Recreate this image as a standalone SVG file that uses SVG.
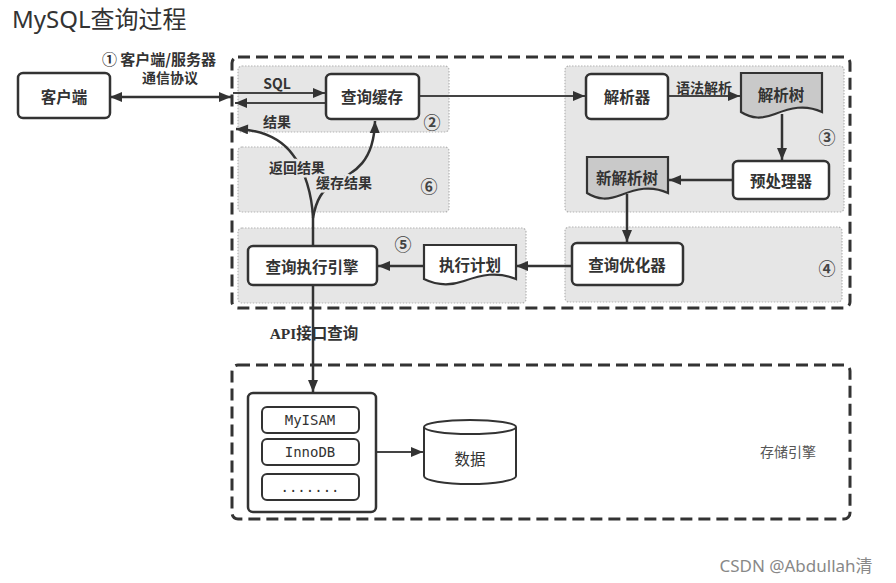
<svg xmlns="http://www.w3.org/2000/svg" width="896" height="583" viewBox="0 0 896 583">
<style>
.panel{fill:#e6e6e6;stroke:#b4b4b4;stroke-width:1.2;stroke-dasharray:1.5 1.5}
.outer{fill:none;stroke:#333;stroke-width:3;stroke-dasharray:12 6}
.box{fill:#fff;stroke:#333;stroke-width:2.5}
.doc{fill:#fff;stroke:#333;stroke-width:2.2}
.docg{fill:#c9c9c9;stroke:#333;stroke-width:2.2}
.lbl{font-family:"Noto Sans CJK SC","Noto Sans",sans-serif;font-size:15.5px;font-weight:bold;fill:#333;text-anchor:middle;dominant-baseline:central}
.sm{font-family:"Noto Sans CJK SC","Noto Sans",sans-serif;font-size:14px;font-weight:bold;fill:#333;text-anchor:middle;dominant-baseline:central}
.num{font-family:"Noto Sans CJK SC","DejaVu Sans",sans-serif;font-size:17px;font-weight:bold;fill:#444;text-anchor:middle;dominant-baseline:central}
.mono{font-family:"DejaVu Sans Mono","Liberation Mono",monospace;font-size:14px;fill:#333;text-anchor:middle;dominant-baseline:central}
.halo{paint-order:stroke;stroke:#e6e6e6;stroke-width:5px;stroke-linejoin:round}
.ln{fill:none;stroke:#444;stroke-width:1.8}
.lnb{fill:none;stroke:#333;stroke-width:2.5}
</style>
<defs>
<marker id="ah" viewBox="0 0 12 10" refX="12" refY="5" markerWidth="13" markerHeight="10" markerUnits="userSpaceOnUse" orient="auto-start-reverse">
<path d="M0,0 L12,5 L0,10 z" fill="#333"/>
</marker>
</defs>

<text x="12" y="28" style="font-family:'Noto Sans','Noto Sans CJK SC',sans-serif;font-size:24px;fill:#333">MySQL查询过程</text>

<!-- containers -->
<rect class="outer" x="232" y="57" width="618" height="251" rx="6"/>
<rect class="outer" x="232" y="365" width="618" height="154" rx="6"/>
<rect class="panel" x="238" y="66" width="211" height="66" rx="4"/>
<rect class="panel" x="238" y="147" width="211" height="65" rx="4"/>
<rect class="panel" x="238" y="228" width="288" height="75" rx="4"/>
<rect class="panel" x="565" y="66" width="279" height="146" rx="4"/>
<rect class="panel" x="565" y="227" width="277" height="75" rx="4"/>

<!-- connectors -->
<g id="connectors">
<line class="lnb" x1="110" y1="97" x2="231" y2="97" marker-start="url(#ah)" marker-end="url(#ah)"/>
<line class="ln" x1="233" y1="93" x2="325" y2="93" marker-end="url(#ah)"/>
<line class="ln" x1="326" y1="103" x2="235" y2="103" marker-end="url(#ah)"/>
<line class="ln" x1="419" y1="96" x2="585" y2="96" marker-end="url(#ah)"/>
<line class="ln" x1="668" y1="96" x2="740" y2="96" marker-end="url(#ah)"/>
<line class="lnb" x1="782" y1="114" x2="782" y2="160" marker-end="url(#ah)"/>
<line class="lnb" x1="733" y1="180" x2="669" y2="180" marker-end="url(#ah)"/>
<line class="lnb" x1="627" y1="194" x2="627" y2="242" marker-end="url(#ah)"/>
<line class="lnb" x1="572" y1="266" x2="516" y2="266" marker-end="url(#ah)"/>
<line class="lnb" x1="424" y1="266" x2="378" y2="266" marker-end="url(#ah)"/>
<path class="lnb" d="M313,245 V218 C312,195 305,170 293,155 C282,140 265,130 236,129" marker-end="url(#ah)"/>
<path class="lnb" d="M313,218 C316,200 322,190 335,182 C355,172 374,162 375,121" marker-end="url(#ah)"/>
<line class="lnb" x1="313" y1="285" x2="313" y2="392" marker-end="url(#ah)"/>
<line class="ln" x1="376" y1="452" x2="423" y2="452" marker-end="url(#ah)"/>
</g>

<!-- labels on connectors -->
<text class="sm" x="159" y="58" style="font-size:15px">① 客户端/服务器</text>
<text class="sm" x="170" y="77">通信协议</text>
<text class="sm" x="277" y="83">SQL</text>
<text class="sm" x="277" y="121">结果</text>
<text class="sm" x="704" y="87">语法解析</text>
<text class="sm halo" x="297" y="167">返回结果</text>
<text class="sm halo" x="344" y="182">缓存结果</text>
<text x="314" y="333" style="font-family:'Liberation Serif','Noto Sans CJK SC',serif;font-size:15.5px;font-weight:bold;fill:#333;text-anchor:middle;dominant-baseline:central">API接口查询</text>

<!-- circled numbers -->
<text class="num" x="432" y="121">②</text>
<text class="num" x="827" y="136">③</text>
<text class="num" x="827" y="267">④</text>
<text class="num" x="403" y="243">⑤</text>
<text class="num" x="429" y="185">⑥</text>

<g id="client">
<rect class="box" x="18" y="73" width="92" height="45" rx="5"/>
<text class="lbl" x="64" y="96">客户端</text>
</g>
<g id="query-cache">
<rect class="box" x="326" y="74" width="93" height="45" rx="5"/>
<text class="lbl" x="372" y="96">查询缓存</text>
</g>
<g id="parser">
<rect class="box" x="586" y="74" width="82" height="45" rx="5"/>
<text class="lbl" x="627" y="96">解析器</text>
</g>
<g id="parse-tree">
<path class="docg" d="M741,73 H822 V112 C805,104 790,108 775,114 C762,119 752,119 741,112 Z"/>
<text class="lbl" x="781" y="94">解析树</text>
</g>
<g id="preprocessor">
<rect class="box" x="733" y="161" width="96" height="38" rx="5"/>
<text class="lbl" x="781" y="180">预处理器</text>
</g>
<g id="new-parse-tree">
<path class="docg" d="M587,157 H668 V193 C651,185 636,189 621,195 C608,200 598,200 587,193 Z"/>
<text class="lbl" x="627" y="177">新解析树</text>
</g>
<g id="optimizer">
<rect class="box" x="572" y="243" width="111" height="42" rx="5"/>
<text class="lbl" x="627" y="264">查询优化器</text>
</g>
<g id="exec-plan">
<path class="doc" d="M424,245 H516 V279 C497,271 481,275 464,281 C450,286 438,286 424,279 Z"/>
<text class="lbl" x="470" y="264">执行计划</text>
</g>
<g id="exec-engine">
<rect class="box" x="248" y="246" width="129" height="39" rx="5"/>
<text class="lbl" x="312" y="266">查询执行引擎</text>
</g>
<g id="engines">
<rect class="box" x="248" y="393" width="128" height="119" rx="5"/>
<rect class="box" x="262" y="407" width="97" height="26" rx="5" style="stroke-width:2"/>
<text class="mono" x="310" y="420">MyISAM</text>
<rect class="box" x="262" y="439" width="97" height="26" rx="5" style="stroke-width:2"/>
<text class="mono" x="310" y="452">InnoDB</text>
<rect class="box" x="262" y="474" width="97" height="26" rx="5" style="stroke-width:2"/>
<text class="mono" x="310" y="487">.......</text>
</g>
<g id="data">
<path class="box" style="stroke-width:2" d="M424,427 V476 A46,8 0 0 0 516,476 V427"/>
<ellipse class="box" style="stroke-width:2" cx="470" cy="427" rx="46" ry="7"/>
<text class="lbl" x="470" y="458" style="font-weight:normal">数据</text>
</g>
<text x="788" y="451" style="font-family:'Noto Sans CJK SC',sans-serif;font-size:14px;fill:#555;text-anchor:middle;dominant-baseline:central">存储引擎</text>
<text x="796" y="565" style="font-family:'Noto Sans','Noto Sans CJK SC',sans-serif;font-size:17px;fill:#888;text-anchor:middle;dominant-baseline:central">CSDN @Abdullah清</text>
</svg>
